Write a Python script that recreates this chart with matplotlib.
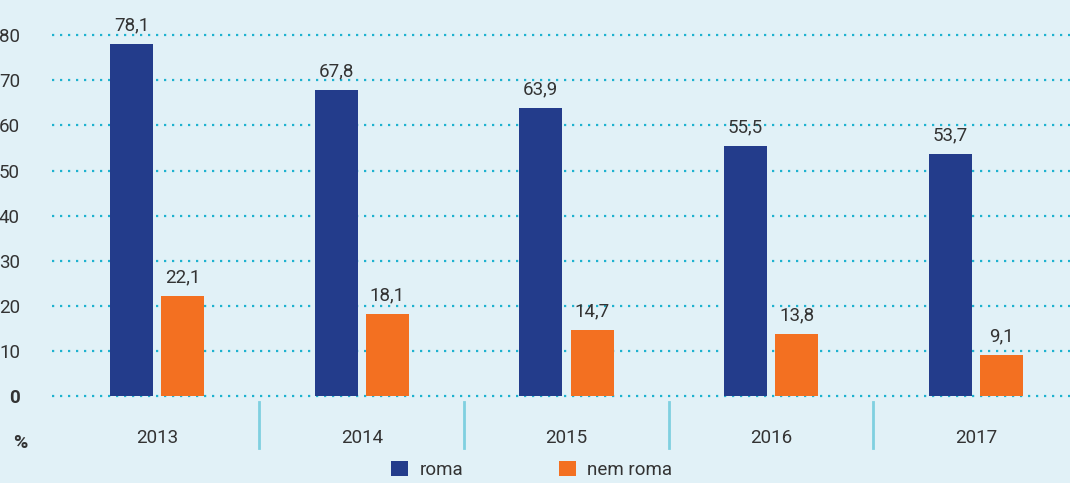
import numpy as np
import matplotlib.pyplot as plt
from matplotlib.patches import Patch

# Data
years = ["2013", "2014", "2015", "2016", "2017"]
roma = [78.1, 67.8, 63.9, 55.5, 53.7]
nem_roma = [22.1, 18.1, 14.7, 13.8, 9.1]
yticks = [0, 10, 20, 30, 40, 50, 60, 70, 80]

bg = "#e1f1f7"
blue = "#233c8b"
orange = "#f37021"
grid_col = "#1eb2cf"
text_col = "#333333"

plt.rcParams['font.family'] = ['Roboto', 'DejaVu Sans']

fig = plt.figure(figsize=(10.7, 4.83), dpi=100, facecolor=bg)
ax = fig.add_axes([0.0486, 0.18, 0.9514, 0.82])
ax.set_facecolor(bg)

x = np.arange(len(years))
w = 0.21
off = 0.125
b1 = ax.bar(x - off, roma, w, color=blue, zorder=3)
b2 = ax.bar(x + off, nem_roma, w, color=orange, zorder=3)

for bars, vals in ((b1, roma), (b2, nem_roma)):
    for rect, v in zip(bars, vals):
        ax.annotate(f"{v:.1f}".replace(".", ","),
                    (rect.get_x() + rect.get_width() / 2, v),
                    xytext=(0, 7), textcoords="offset points",
                    ha="center", va="bottom", fontsize=13.5, color=text_col)

ax.set_xlim(-0.513, 4.46)
ax.set_ylim(0, 87.8)

# dotted grid
for t in yticks:
    ax.axhline(t, color=grid_col, linestyle=(0, (1, 2.6)), linewidth=1.6,
               zorder=1, clip_on=False)

ax.set_yticks(yticks)
ax.set_yticklabels([str(t) for t in yticks], fontsize=13.5, color=text_col)
ax.get_yticklabels()[0].set_fontweight("bold")
ax.set_xticks(x)
ax.set_xticklabels(years, fontsize=13.5, color=text_col)
ax.tick_params(axis="y", length=0, pad=23)
ax.tick_params(axis="x", length=0, pad=24)
for s in ax.spines.values():
    s.set_visible(False)

# category separators
trans = ax.get_xaxis_transform()
for xs in x[:-1] + 0.5:
    ax.plot([xs, xs], [-0.015, -0.13], color="#7fd0e0", linewidth=2,
            transform=trans, clip_on=False)

fig.text(0.019, 0.082, "%", fontsize=14, fontweight="bold", color=text_col,
         ha="center", va="center")

handles = [Patch(facecolor=blue, label="roma"), Patch(facecolor=orange, label="nem roma")]
fig.legend(handles=handles, loc="center", bbox_to_anchor=(0.497, 0.027), ncol=2,
           frameon=False, fontsize=13.5, handlelength=0.9, handleheight=0.9,
           handletextpad=0.6, columnspacing=5.1, labelcolor=text_col)

fig.savefig("out.png", dpi=100, facecolor=bg)
